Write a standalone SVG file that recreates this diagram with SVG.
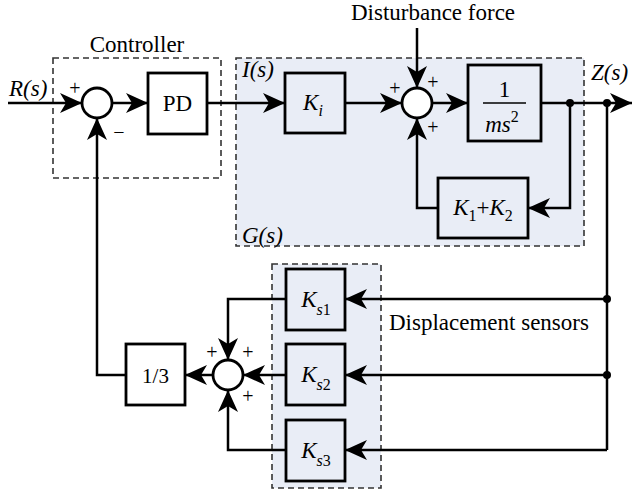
<svg xmlns="http://www.w3.org/2000/svg" width="632" height="491" viewBox="0 0 632 491" font-family="'Liberation Serif', 'Times New Roman', serif">
<defs>
<marker id="ah" markerUnits="userSpaceOnUse" markerWidth="25" markerHeight="22" viewBox="-23 -11 25 22" refX="0" refY="0" orient="auto">
<path d="M0,0 L-22,-10 L-16,0 L-22,10 Z" fill="#000"/>
</marker>
</defs>
<style>
.dash{fill:none;stroke:#333;stroke-width:1.6;stroke-dasharray:6 4}
.shade{fill:#e9edf6}
.box{fill:#fff;stroke:#000;stroke-width:2.8}
.sbox{fill:#e9edf6;stroke:#000;stroke-width:2.8}
.sum{fill:#fff;stroke:#000;stroke-width:2.8}
.ln{fill:none;stroke:#000;stroke-width:2.5}
.ar{marker-end:url(#ah)}
text{font-family:"Liberation Serif","Times New Roman",serif;fill:#000}
.lbl{font-size:23px}
.it{font-style:italic;font-size:23px}
.sg{font-size:20px}
.sub{font-size:16px}
.up{font-style:normal}
</style>
<rect x="236" y="58" width="348" height="188" class="shade"/>
<rect x="272" y="264" width="109" height="224" class="shade"/>
<g id="controller-box"><rect x="53" y="58" width="168" height="120" class="dash"/><text x="137" y="52" text-anchor="middle" class="lbl">Controller</text></g>
<g id="plant-box"><rect x="236" y="58" width="348" height="188" class="dash"/><text x="242" y="243" class="it">G(s)</text></g>
<g id="sensor-box"><rect x="272" y="264" width="109" height="224" class="dash"/></g>
<g id="connectors">
<path class="ln ar" d="M8 103 L82 103"/>
<path class="ln ar" d="M112 103 L148 103"/>
<path class="ln ar" d="M207 103 L285 103"/>
<path class="ln ar" d="M345 103 L402 103"/>
<path class="ln ar" d="M417 28 L417 88"/>
<path class="ln ar" d="M432 103 L468 103"/>
<path class="ln ar" d="M541 103 L632 103"/>
<path class="ln ar" d="M570 103 L570 208 L528 208"/>
<path class="ln ar" d="M438 208 L417 208 L417 118"/>
<path class="ln" d="M607 103 L607 450"/>
<path class="ln ar" d="M607 299 L345 299"/>
<path class="ln ar" d="M607 375 L345 375"/>
<path class="ln ar" d="M607 450 L345 450"/>
<path class="ln ar" d="M286 299 L228 299 L228 360"/>
<path class="ln ar" d="M286 375 L243 375"/>
<path class="ln ar" d="M286 450 L228 450 L228 390"/>
<path class="ln ar" d="M213 375 L185 375"/>
<path class="ln ar" d="M126 375 L97 375 L97 118"/>
<circle cx="570" cy="103" r="4"/>
<circle cx="607" cy="103" r="4"/>
<circle cx="607" cy="299" r="4"/>
<circle cx="607" cy="375" r="4"/>
</g>
<g id="labels">
<text x="9" y="96" class="it">R(s)</text>
<text x="242" y="77" class="it">I(s)</text>
<text x="591" y="80" class="it">Z(s)</text>
<text x="433" y="20" text-anchor="middle" class="lbl">Disturbance force</text>
<text x="389" y="330" class="lbl">Displacement sensors</text>
</g>
<g id="sum1"><circle cx="97" cy="103" r="15" class="sum"/><text x="75" y="95" text-anchor="middle" class="sg">+</text><text x="119" y="139" text-anchor="middle" class="sg">−</text></g>
<g id="pd"><rect x="148" y="73" width="59" height="61" class="box"/><text x="177.5" y="111" text-anchor="middle" class="lbl">PD</text></g>
<g id="ki"><rect x="285" y="73" width="60" height="60" class="sbox"/><text x="313" y="110" text-anchor="middle" class="it">K<tspan class="sub" dy="6">i</tspan></text></g>
<g id="sum2"><circle cx="417" cy="103" r="15" class="sum"/><text x="395" y="95" text-anchor="middle" class="sg">+</text><text x="433" y="89" text-anchor="middle" class="sg">+</text><text x="433" y="134" text-anchor="middle" class="sg">+</text></g>
<g id="plant"><rect x="468" y="65" width="73" height="76" class="sbox"/><text x="504.5" y="97" text-anchor="middle" class="lbl">1</text><line x1="483" y1="103" x2="526" y2="103" stroke="#000" stroke-width="1.3"/><text x="502" y="132" text-anchor="middle" class="it">ms<tspan class="sub up" dy="-10">2</tspan></text></g>
<g id="k1k2"><rect x="438" y="178" width="90" height="60" class="sbox"/><text x="483" y="215" text-anchor="middle" class="it">K<tspan class="sub up" dy="6">1</tspan><tspan class="up" dy="-6">+</tspan>K<tspan class="sub up" dy="6">2</tspan></text></g>
<g id="ks1"><rect x="286" y="269" width="59" height="61" class="sbox"/><text x="316" y="307" text-anchor="middle" class="it">K<tspan class="sub" dy="8">s</tspan><tspan class="sub up">1</tspan></text></g>
<g id="ks2"><rect x="286" y="344" width="59" height="61" class="sbox"/><text x="316" y="382" text-anchor="middle" class="it">K<tspan class="sub" dy="8">s</tspan><tspan class="sub up">2</tspan></text></g>
<g id="ks3"><rect x="286" y="420" width="59" height="61" class="sbox"/><text x="316" y="458" text-anchor="middle" class="it">K<tspan class="sub" dy="8">s</tspan><tspan class="sub up">3</tspan></text></g>
<g id="sum3"><circle cx="228" cy="375" r="15" class="sum"/><text x="212" y="359" text-anchor="middle" class="sg">+</text><text x="248" y="359" text-anchor="middle" class="sg">+</text><text x="248" y="403" text-anchor="middle" class="sg">+</text></g>
<g id="gain"><rect x="126" y="344" width="59" height="61" class="box"/><text x="155.5" y="383" text-anchor="middle" class="lbl" style="font-size:21px">1/3</text></g>
</svg>
